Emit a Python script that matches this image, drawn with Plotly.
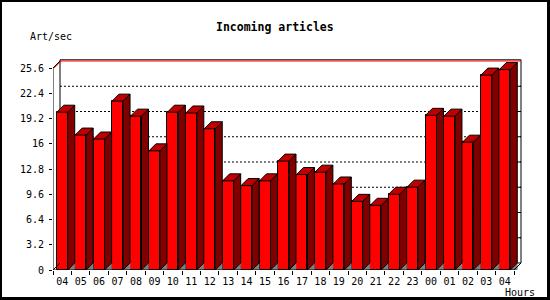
import plotly.graph_objects as go

# ---------------- data ----------------
hours = ["04", "05", "06", "07", "08", "09", "10", "11", "12", "13", "14", "15",
         "16", "17", "18", "19", "20", "21", "22", "23", "00", "01", "02", "03", "04"]
rates = [20.0, 17.1, 16.6, 21.4, 19.5, 15.1, 20.0, 19.9, 17.9, 11.3, 10.7, 11.3,
         13.8, 12.1, 12.4, 10.9, 8.7, 8.2, 9.6, 10.5, 19.6, 19.5, 16.2, 24.7, 25.4]
ytick_vals = [0, 3.2, 6.4, 9.6, 12.8, 16, 19.2, 22.4, 25.6]
ytick_text = ["0", "3.2", "6.4", "9.6", "12.8", "16", "19.2", "22.4", "25.6"]
title_text = "Incoming articles"
ylabel_text = "Art/sec"
xlabel_text = "Hours"

# ---------------- geometry (pixels) ----------------
W, H = 550, 300
L, R, T, B = 53, 27, 58, 30          # plot area: x 53..523, y 58..270
plot_w = W - L - R
plot_h = H - T - B
n = len(rates)
front_w_px = 461                      # front axis length
slot_px = front_w_px / n
ytop_px = 202                         # pixels for 0..25.6
ppu = ytop_px / ytick_vals[-1]
depth_px = 7
dx = depth_px / slot_px
dy = depth_px / ppu
bw = 11 / slot_px
xmin = -0.5
xmax = xmin + plot_w / slot_px
ymax = plot_h / ppu
x_lo, x_hi = -0.5, n - 0.5


def pxx(p):
    return (p - L) / plot_w


def pxy(p):
    return (H - B - p) / plot_h


fig = go.Figure()

# front faces
fig.add_trace(go.Bar(
    x=list(range(n)), y=rates, width=bw,
    marker=dict(color="#FF0000", line=dict(color="black", width=1)),
    hoverinfo="skip", showlegend=False,
))

# floor triangles (grey)
fx, fy = [], []
for i in range(n):
    a = i + bw / 2
    fx += [a, a + dx, a + dx, a, None]
    fy += [0, dy, 0, 0, None]
fig.add_trace(go.Scatter(x=fx, y=fy, mode="lines", fill="toself",
                         fillcolor="#808080", line=dict(color="#808080", width=0.5),
                         hoverinfo="skip", showlegend=False))

# side faces
sx, sy = [], []
for i, v in enumerate(rates):
    a = i + bw / 2
    sx += [a, a + dx, a + dx, a, a, None]
    sy += [0, dy, v + dy, v, 0, None]
fig.add_trace(go.Scatter(x=sx, y=sy, mode="lines", fill="toself",
                         fillcolor="#800000", line=dict(color="black", width=1),
                         hoverinfo="skip", showlegend=False))

# top faces
tx, ty = [], []
for i, v in enumerate(rates):
    a = i - bw / 2
    b = i + bw / 2
    tx += [a, a + dx, b + dx, b, a, None]
    ty += [v, v + dy, v + dy, v, v, None]
fig.add_trace(go.Scatter(x=tx, y=ty, mode="lines", fill="toself",
                         fillcolor="#C00000", line=dict(color="black", width=1),
                         hoverinfo="skip", showlegend=False))

# front axis lines + floor edges
fig.add_trace(go.Scatter(
    x=[x_lo, x_lo, x_lo + dx, None, x_lo, x_hi, x_hi + dx, None, x_lo, x_lo + dx],
    y=[0, ytick_vals[-1], ytick_vals[-1] + dy, None, 0, 0, dy, None, 0, dy],
    mode="lines", line=dict(color="black", width=1), cliponaxis=False,
    hoverinfo="skip", showlegend=False))

shapes = []
# back plane gridlines (dotted)
for v in ytick_vals[1:-1]:
    shapes.append(dict(type="line", xref="x", yref="y", layer="below",
                       x0=x_lo + dx, x1=x_hi + dx, y0=v + dy, y1=v + dy,
                       line=dict(color="black", width=1, dash="2px,2px")))
# right back axis ticks
for v in ytick_vals[:-1]:
    shapes.append(dict(type="line", xref="x", yref="y", layer="below",
                       x0=x_hi + dx - 4 / slot_px, x1=x_hi + dx, y0=v + dy, y1=v + dy,
                       line=dict(color="black", width=1)))
# back plane frame
top_b = ytick_vals[-1] + dy + 1.2 / ppu
shapes += [
    dict(type="line", xref="x", yref="y", layer="below", x0=x_lo + dx, x1=x_lo + dx,
         y0=dy, y1=top_b, line=dict(color="black", width=1)),
    dict(type="line", xref="x", yref="y", layer="below", x0=x_lo + dx, x1=x_hi + dx,
         y0=top_b, y1=top_b, line=dict(color="black", width=1)),
    dict(type="line", xref="x", yref="y", layer="below", x0=x_hi + dx, x1=x_hi + dx,
         y0=dy, y1=top_b, line=dict(color="black", width=1)),
    # red max line
    dict(type="line", xref="x", yref="y", layer="below", x0=x_lo + dx, x1=x_hi + dx,
         y0=ytick_vals[-1] + dy, y1=ytick_vals[-1] + dy, line=dict(color="#FF0000", width=1)),
    dict(type="line", xref="x", yref="y", layer="below", x0=x_lo + 0.06, x1=x_lo + dx + 0.06,
         y0=ytick_vals[-1], y1=ytick_vals[-1] + dy, line=dict(color="#FF0000", width=1)),
]
# outer frame
shapes += [
    dict(type="line", xref="paper", yref="paper", x0=pxx(1), x1=pxx(549), y0=pxy(1), y1=pxy(1),
         line=dict(color="black", width=2)),
    dict(type="line", xref="paper", yref="paper", x0=pxx(1), x1=pxx(1), y0=pxy(0), y1=pxy(300),
         line=dict(color="black", width=2)),
    dict(type="line", xref="paper", yref="paper", x0=pxx(548.5), x1=pxx(548.5), y0=pxy(0), y1=pxy(300),
         line=dict(color="black", width=3)),
    dict(type="line", xref="paper", yref="paper", x0=pxx(0), x1=pxx(550), y0=pxy(298.5), y1=pxy(298.5),
         line=dict(color="black", width=3)),
]

mono = "DejaVu Sans Mono"
annotations = [
    dict(text="<b>" + title_text + "</b>", xref="paper", yref="paper", x=pxx(275), y=pxy(27),
         xanchor="center", yanchor="middle", showarrow=False,
         font=dict(family=mono, size=11.5, color="black")),
    dict(text=ylabel_text, xref="paper", yref="paper", x=pxx(50.5), y=pxy(37),
         xanchor="center", yanchor="middle", showarrow=False,
         font=dict(family=mono, size=10, color="black")),
    dict(text=xlabel_text, xref="paper", yref="paper", x=pxx(519.5), y=pxy(292.5),
         xanchor="center", yanchor="middle", showarrow=False,
         font=dict(family=mono, size=10, color="black")),
]

fig.update_layout(
    width=W, height=H,
    margin=dict(l=L, r=R, t=T, b=B, pad=0),
    paper_bgcolor="white", plot_bgcolor="white",
    showlegend=False, bargap=0,
    shapes=shapes, annotations=annotations,
    xaxis=dict(range=[xmin, xmax], tickvals=list(range(n)), ticktext=hours,
               ticks="", showgrid=False, zeroline=False, showline=False,
               ticklabelstandoff=4,
               tickfont=dict(family=mono, size=10, color="black"),
               minor=dict(tickvals=[i - 0.5 for i in range(n + 1)], ticks="outside",
                          ticklen=4, tickcolor="black", tickwidth=1, showgrid=False),
               fixedrange=True),
    yaxis=dict(range=[0, ymax], tickvals=ytick_vals, ticktext=ytick_text,
               ticks="outside", ticklen=3, tickcolor="black", tickwidth=1,
               showgrid=False, zeroline=False, showline=False,
               ticklabelstandoff=3,
               tickfont=dict(family=mono, size=10, color="black"),
               fixedrange=True),
)

fig.write_html("out.html")
